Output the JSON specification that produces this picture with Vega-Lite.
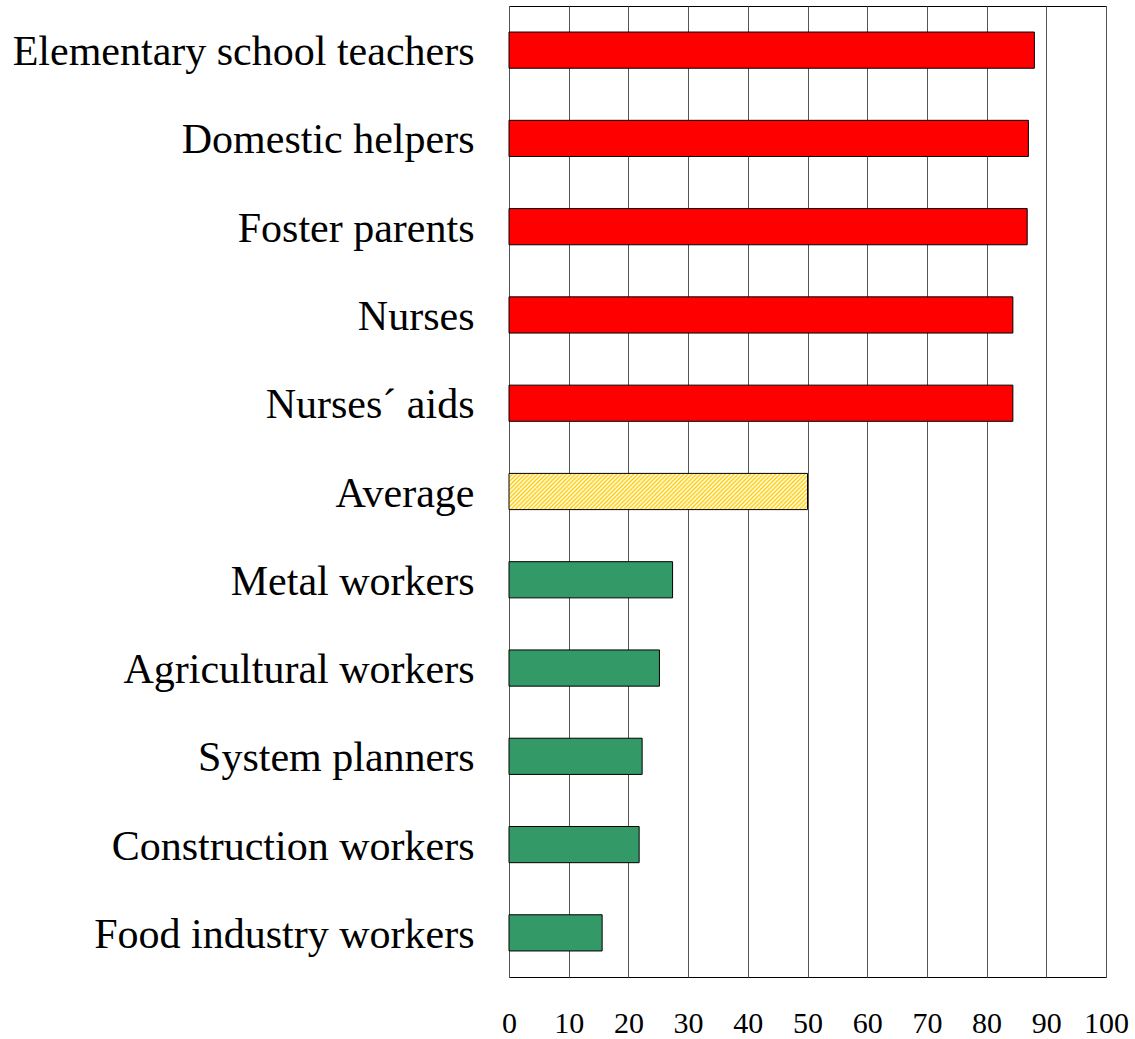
{
  "$schema": "https://vega.github.io/schema/vega-lite/v6.json",
  "width": 597,
  "height": 971,
  "autosize": {"type": "none"},
  "padding": {"left": 509, "top": 6, "right": 29, "bottom": 62},
  "background": "white",
  "config": {
    "view": {"stroke": "black", "strokeWidth": 1},
    "font": "Liberation Serif"
  },
  "data": {
    "values": [
      {"occupation": "Elementary school teachers", "value": 88.0, "group": "high"},
      {"occupation": "Domestic helpers", "value": 87.0, "group": "high"},
      {"occupation": "Foster parents", "value": 86.8, "group": "high"},
      {"occupation": "Nurses", "value": 84.4, "group": "high"},
      {"occupation": "Nurses´ aids", "value": 84.4, "group": "high"},
      {"occupation": "Average", "value": 50.0, "group": "avg"},
      {"occupation": "Metal workers", "value": 27.4, "group": "low"},
      {"occupation": "Agricultural workers", "value": 25.2, "group": "low"},
      {"occupation": "System planners", "value": 22.3, "group": "low"},
      {"occupation": "Construction workers", "value": 21.8, "group": "low"},
      {"occupation": "Food industry workers", "value": 15.6, "group": "low"}
    ]
  },
  "mark": {"type": "bar", "stroke": "black", "strokeWidth": 1},
  "encoding": {
    "y": {
      "field": "occupation",
      "type": "nominal",
      "sort": null,
      "scale": {"paddingInner": 0.59, "paddingOuter": 0.295},
      "axis": {
        "title": null,
        "ticks": false,
        "tickSize": 0,
        "domain": false,
        "grid": false,
        "labelFont": "Liberation Serif",
        "labelFontSize": 42,
        "labelColor": "black",
        "labelPadding": 35,
        "labelOffset": 2,
        "labelLimit": 600
      }
    },
    "x": {
      "field": "value",
      "type": "quantitative",
      "scale": {"domain": [0, 100], "nice": false},
      "axis": {
        "title": null,
        "values": [0, 10, 20, 30, 40, 50, 60, 70, 80, 90, 100],
        "ticks": false,
        "tickSize": 0,
        "domain": false,
        "grid": true,
        "gridColor": "#555555",
        "gridWidth": 1,
        "gridOpacity": 1,
        "labelFont": "Liberation Serif",
        "labelFontSize": 30,
        "labelColor": "black",
        "labelPadding": 31,
        "labelFlush": false,
        "labelOverlap": false
      }
    },
    "fill": {
      "condition": {
        "test": "datum.group === 'avg'",
        "value": {
          "gradient": "linear",
          "x1": 0, "y1": 0, "x2": 1.104, "y2": 0.1325,
          "stops": [
            {"offset": 0.0, "color": "#FFCC00"}, {"offset": 0.00625, "color": "#FFFFFF"}, {"offset": 0.0125, "color": "#FFCC00"}, {"offset": 0.01875, "color": "#FFFFFF"}, {"offset": 0.025, "color": "#FFCC00"}, {"offset": 0.03125, "color": "#FFFFFF"}, {"offset": 0.0375, "color": "#FFCC00"}, {"offset": 0.04375, "color": "#FFFFFF"}, {"offset": 0.05, "color": "#FFCC00"}, {"offset": 0.05625, "color": "#FFFFFF"}, {"offset": 0.0625, "color": "#FFCC00"}, {"offset": 0.06875, "color": "#FFFFFF"}, {"offset": 0.075, "color": "#FFCC00"}, {"offset": 0.08125, "color": "#FFFFFF"}, {"offset": 0.0875, "color": "#FFCC00"}, {"offset": 0.09375, "color": "#FFFFFF"},
            {"offset": 0.1, "color": "#FFCC00"}, {"offset": 0.10625, "color": "#FFFFFF"}, {"offset": 0.1125, "color": "#FFCC00"}, {"offset": 0.11875, "color": "#FFFFFF"}, {"offset": 0.125, "color": "#FFCC00"}, {"offset": 0.13125, "color": "#FFFFFF"}, {"offset": 0.1375, "color": "#FFCC00"}, {"offset": 0.14375, "color": "#FFFFFF"}, {"offset": 0.15, "color": "#FFCC00"}, {"offset": 0.15625, "color": "#FFFFFF"}, {"offset": 0.1625, "color": "#FFCC00"}, {"offset": 0.16875, "color": "#FFFFFF"}, {"offset": 0.175, "color": "#FFCC00"}, {"offset": 0.18125, "color": "#FFFFFF"}, {"offset": 0.1875, "color": "#FFCC00"}, {"offset": 0.19375, "color": "#FFFFFF"},
            {"offset": 0.2, "color": "#FFCC00"}, {"offset": 0.20625, "color": "#FFFFFF"}, {"offset": 0.2125, "color": "#FFCC00"}, {"offset": 0.21875, "color": "#FFFFFF"}, {"offset": 0.225, "color": "#FFCC00"}, {"offset": 0.23125, "color": "#FFFFFF"}, {"offset": 0.2375, "color": "#FFCC00"}, {"offset": 0.24375, "color": "#FFFFFF"}, {"offset": 0.25, "color": "#FFCC00"}, {"offset": 0.25625, "color": "#FFFFFF"}, {"offset": 0.2625, "color": "#FFCC00"}, {"offset": 0.26875, "color": "#FFFFFF"}, {"offset": 0.275, "color": "#FFCC00"}, {"offset": 0.28125, "color": "#FFFFFF"}, {"offset": 0.2875, "color": "#FFCC00"}, {"offset": 0.29375, "color": "#FFFFFF"},
            {"offset": 0.3, "color": "#FFCC00"}, {"offset": 0.30625, "color": "#FFFFFF"}, {"offset": 0.3125, "color": "#FFCC00"}, {"offset": 0.31875, "color": "#FFFFFF"}, {"offset": 0.325, "color": "#FFCC00"}, {"offset": 0.33125, "color": "#FFFFFF"}, {"offset": 0.3375, "color": "#FFCC00"}, {"offset": 0.34375, "color": "#FFFFFF"}, {"offset": 0.35, "color": "#FFCC00"}, {"offset": 0.35625, "color": "#FFFFFF"}, {"offset": 0.3625, "color": "#FFCC00"}, {"offset": 0.36875, "color": "#FFFFFF"}, {"offset": 0.375, "color": "#FFCC00"}, {"offset": 0.38125, "color": "#FFFFFF"}, {"offset": 0.3875, "color": "#FFCC00"}, {"offset": 0.39375, "color": "#FFFFFF"},
            {"offset": 0.4, "color": "#FFCC00"}, {"offset": 0.40625, "color": "#FFFFFF"}, {"offset": 0.4125, "color": "#FFCC00"}, {"offset": 0.41875, "color": "#FFFFFF"}, {"offset": 0.425, "color": "#FFCC00"}, {"offset": 0.43125, "color": "#FFFFFF"}, {"offset": 0.4375, "color": "#FFCC00"}, {"offset": 0.44375, "color": "#FFFFFF"}, {"offset": 0.45, "color": "#FFCC00"}, {"offset": 0.45625, "color": "#FFFFFF"}, {"offset": 0.4625, "color": "#FFCC00"}, {"offset": 0.46875, "color": "#FFFFFF"}, {"offset": 0.475, "color": "#FFCC00"}, {"offset": 0.48125, "color": "#FFFFFF"}, {"offset": 0.4875, "color": "#FFCC00"}, {"offset": 0.49375, "color": "#FFFFFF"},
            {"offset": 0.5, "color": "#FFCC00"}, {"offset": 0.50625, "color": "#FFFFFF"}, {"offset": 0.5125, "color": "#FFCC00"}, {"offset": 0.51875, "color": "#FFFFFF"}, {"offset": 0.525, "color": "#FFCC00"}, {"offset": 0.53125, "color": "#FFFFFF"}, {"offset": 0.5375, "color": "#FFCC00"}, {"offset": 0.54375, "color": "#FFFFFF"}, {"offset": 0.55, "color": "#FFCC00"}, {"offset": 0.55625, "color": "#FFFFFF"}, {"offset": 0.5625, "color": "#FFCC00"}, {"offset": 0.56875, "color": "#FFFFFF"}, {"offset": 0.575, "color": "#FFCC00"}, {"offset": 0.58125, "color": "#FFFFFF"}, {"offset": 0.5875, "color": "#FFCC00"}, {"offset": 0.59375, "color": "#FFFFFF"},
            {"offset": 0.6, "color": "#FFCC00"}, {"offset": 0.60625, "color": "#FFFFFF"}, {"offset": 0.6125, "color": "#FFCC00"}, {"offset": 0.61875, "color": "#FFFFFF"}, {"offset": 0.625, "color": "#FFCC00"}, {"offset": 0.63125, "color": "#FFFFFF"}, {"offset": 0.6375, "color": "#FFCC00"}, {"offset": 0.64375, "color": "#FFFFFF"}, {"offset": 0.65, "color": "#FFCC00"}, {"offset": 0.65625, "color": "#FFFFFF"}, {"offset": 0.6625, "color": "#FFCC00"}, {"offset": 0.66875, "color": "#FFFFFF"}, {"offset": 0.675, "color": "#FFCC00"}, {"offset": 0.68125, "color": "#FFFFFF"}, {"offset": 0.6875, "color": "#FFCC00"}, {"offset": 0.69375, "color": "#FFFFFF"},
            {"offset": 0.7, "color": "#FFCC00"}, {"offset": 0.70625, "color": "#FFFFFF"}, {"offset": 0.7125, "color": "#FFCC00"}, {"offset": 0.71875, "color": "#FFFFFF"}, {"offset": 0.725, "color": "#FFCC00"}, {"offset": 0.73125, "color": "#FFFFFF"}, {"offset": 0.7375, "color": "#FFCC00"}, {"offset": 0.74375, "color": "#FFFFFF"}, {"offset": 0.75, "color": "#FFCC00"}, {"offset": 0.75625, "color": "#FFFFFF"}, {"offset": 0.7625, "color": "#FFCC00"}, {"offset": 0.76875, "color": "#FFFFFF"}, {"offset": 0.775, "color": "#FFCC00"}, {"offset": 0.78125, "color": "#FFFFFF"}, {"offset": 0.7875, "color": "#FFCC00"}, {"offset": 0.79375, "color": "#FFFFFF"},
            {"offset": 0.8, "color": "#FFCC00"}, {"offset": 0.80625, "color": "#FFFFFF"}, {"offset": 0.8125, "color": "#FFCC00"}, {"offset": 0.81875, "color": "#FFFFFF"}, {"offset": 0.825, "color": "#FFCC00"}, {"offset": 0.83125, "color": "#FFFFFF"}, {"offset": 0.8375, "color": "#FFCC00"}, {"offset": 0.84375, "color": "#FFFFFF"}, {"offset": 0.85, "color": "#FFCC00"}, {"offset": 0.85625, "color": "#FFFFFF"}, {"offset": 0.8625, "color": "#FFCC00"}, {"offset": 0.86875, "color": "#FFFFFF"}, {"offset": 0.875, "color": "#FFCC00"}, {"offset": 0.88125, "color": "#FFFFFF"}, {"offset": 0.8875, "color": "#FFCC00"}, {"offset": 0.89375, "color": "#FFFFFF"},
            {"offset": 0.9, "color": "#FFCC00"}, {"offset": 0.90625, "color": "#FFFFFF"}, {"offset": 0.9125, "color": "#FFCC00"}, {"offset": 0.91875, "color": "#FFFFFF"}, {"offset": 0.925, "color": "#FFCC00"}, {"offset": 0.93125, "color": "#FFFFFF"}, {"offset": 0.9375, "color": "#FFCC00"}, {"offset": 0.94375, "color": "#FFFFFF"}, {"offset": 0.95, "color": "#FFCC00"}, {"offset": 0.95625, "color": "#FFFFFF"}, {"offset": 0.9625, "color": "#FFCC00"}, {"offset": 0.96875, "color": "#FFFFFF"}, {"offset": 0.975, "color": "#FFCC00"}, {"offset": 0.98125, "color": "#FFFFFF"}, {"offset": 0.9875, "color": "#FFCC00"}, {"offset": 0.99375, "color": "#FFFFFF"},
            {"offset": 1.0, "color": "#FFCC00"}
          ]
        }
      },
      "field": "group",
      "type": "nominal",
      "scale": {"domain": ["high", "low", "avg"], "range": ["#FF0000", "#339966", "#FFE680"]},
      "legend": null
    }
  }
}
